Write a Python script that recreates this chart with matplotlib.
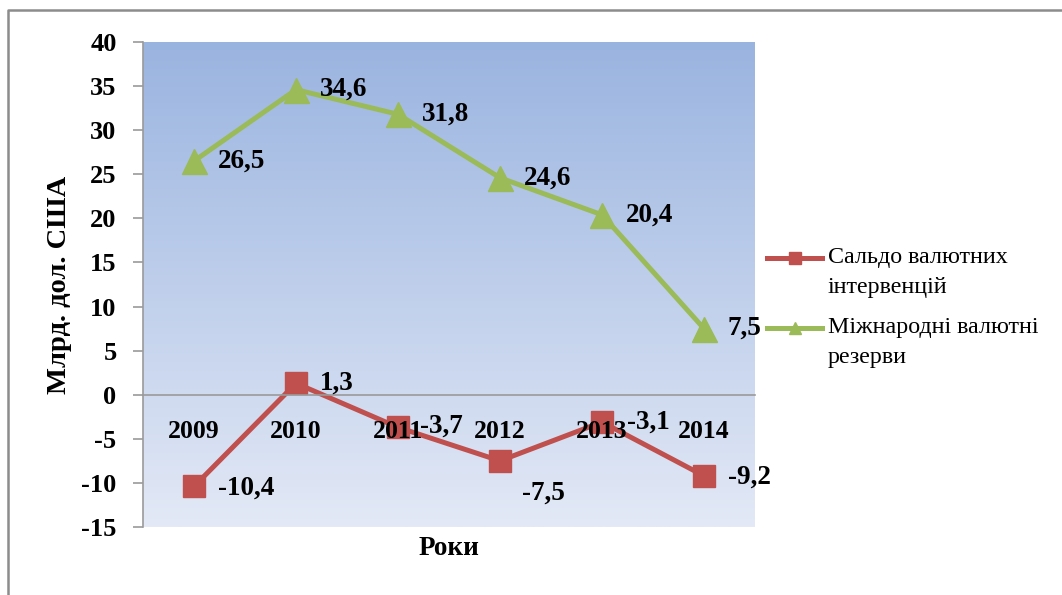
import numpy as np
import matplotlib
matplotlib.use("Agg")
import matplotlib.pyplot as plt
from matplotlib.lines import Line2D
from matplotlib.colors import LinearSegmentedColormap

plt.rcParams['font.family'] = ['Liberation Serif', 'DejaVu Serif']

years = ['2009', '2010', '2011', '2012', '2013', '2014']
interventions = [-10.4, 1.3, -3.7, -7.5, -3.1, -9.2]
reserves = [26.5, 34.6, 31.8, 24.6, 20.4, 7.5]
series_names = ['Сальдо валютних\nінтервенцій', 'Міжнародні валютні\nрезерви']
y_ticks = [40, 35, 30, 25, 20, 15, 10, 5, 0, -5, -10, -15]

RED = '#c0504d'
GREEN = '#9bbb59'
W, H = 1062, 595

fig = plt.figure(figsize=(W / 100, H / 100), dpi=100)
ax = fig.add_axes([143 / W, 1 - 527 / H, 612 / W, 485 / H])

x = np.arange(len(years))
ax.set_xlim(-0.5, len(years) - 0.5)
ax.set_ylim(-15, 40)

# gradient plot-area fill
grad = LinearSegmentedColormap.from_list('pa', ['#e3e9f6', '#9ab4e0'])
ax.imshow(np.linspace(0, 1, 256).reshape(-1, 1), cmap=grad, origin='lower',
          extent=(-0.5, len(years) - 0.5, -15, 40), aspect='auto', zorder=0)

ax.plot(x, interventions, color=RED, lw=3.6, marker='s', ms=16,
        markerfacecolor=RED, markeredgecolor=RED, zorder=2)
ax.plot(x, reserves, color=GREEN, lw=3.6, marker='^', ms=18,
        markerfacecolor=GREEN, markeredgecolor=GREEN, zorder=2)

def fmt(v):
    return f'{v:.1f}'.replace('.', ',')

lbl = dict(fontsize=19.5, fontweight='bold', ha='left', va='center',
           textcoords='offset points', zorder=5)
for xi, v in zip(x, reserves):
    ax.annotate(fmt(v), (xi, v), xytext=(17, 0), **lbl)
red_offsets = [(17, -1), (17, 0), (16, 1), (16, -23), (18, 0), (17, -1)]
for xi, v, off in zip(x, interventions, red_offsets):
    ax.annotate(fmt(v), (xi, v), xytext=off, **lbl)

# axes styling
for s in ['top', 'right']:
    ax.spines[s].set_visible(False)
ax.spines['bottom'].set_position(('data', 0))
ax.spines['bottom'].set_color('#9a9a9a')
ax.spines['bottom'].set_linewidth(1.2)
ax.spines['left'].set_color('#9a9a9a')
ax.spines['left'].set_linewidth(1.2)
ax.set_axisbelow(False)

ax.set_yticks(y_ticks)
ax.set_yticklabels([str(t) for t in y_ticks], fontsize=19, fontweight='bold')
ax.tick_params(axis='y', direction='out', length=7, width=1.2, color='#9a9a9a', pad=12)
ax.set_xticks(x)
ax.set_xticklabels(years, fontsize=18.5, fontweight='bold')
ax.tick_params(axis='x', length=0, pad=18)

ax.set_ylabel('Млрд. дол. США', fontsize=20.5, fontweight='bold')
ax.yaxis.label.set_va('center')
ax.yaxis.set_label_coords(-0.136, 0.5)
ax.set_xlabel('Роки', fontsize=19.5, fontweight='bold')
ax.xaxis.label.set_va('center')
ax.xaxis.set_label_coords(0.5, -0.045)

# legend entries
def fx(px):
    return px / W

def fy(py):
    return 1 - py / H

leg = [(RED, 's', 258, series_names[0]), (GREEN, '^', 328, series_names[1])]
for color, mk, py, name in leg:
    fig.add_artist(Line2D([fx(767), fx(822)], [fy(py), fy(py)], color=color, lw=3.6,
                          transform=fig.transFigure))
    fig.add_artist(Line2D([fx(794.5)], [fy(py)], color=color, marker=mk, ms=8,
                          transform=fig.transFigure))
    for k, line in enumerate(name.split('\n')):
        fig.text(fx(828), fy(py + 29 * k), line, fontsize=17.3, ha='left', va='center')

# chart border
fig.add_artist(Line2D([fx(8), fx(8), fx(W)], [fy(H), fy(10), fy(10)], color='#8c8c8c',
                      lw=1.8, transform=fig.transFigure))

fig.savefig('out.png', dpi=100)
